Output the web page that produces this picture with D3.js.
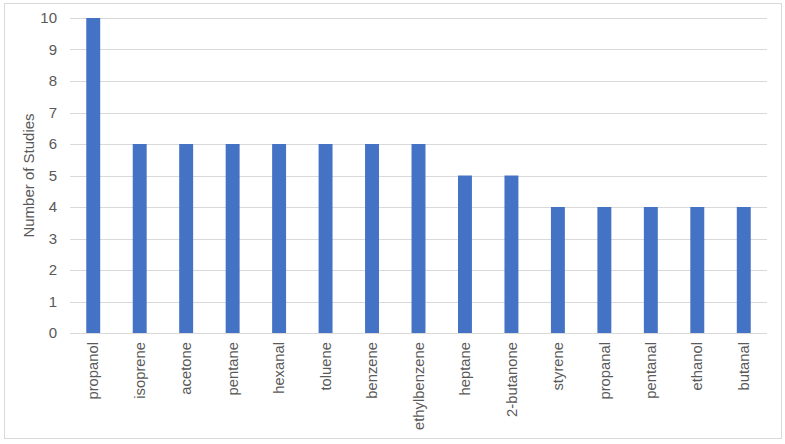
<!DOCTYPE html>
<html>
<head>
<meta charset="utf-8">
<script src="https://cdn.jsdelivr.net/npm/d3@7"></script>
<style>
  body { margin: 0; background: #fff; }
  text { font-family: "Liberation Sans", Arial, sans-serif; fill: #595959; }
</style>
</head>
<body>
<svg class="chart"></svg>
<script>
// compounds and how many studies reported them
var compounds = ["propanol", "isoprene", "acetone", "pentane", "hexanal", "toluene",
	"benzene", "ethylbenzene", "heptane", "2-butanone", "styrene", "propanal",
	"pentanal", "ethanol", "butanal"];
var studies = [10, 6, 6, 6, 6, 6, 6, 6, 5, 5, 4, 4, 4, 4, 4];
var yTicks = [0, 1, 2, 3, 4, 5, 6, 7, 8, 9, 10];

var W = 785, H = 444;
var plotLeft = 70, plotRight = 767, plotTop = 18, plotBottom = 333;

var svg = d3.select(".chart")
	.attr("width", W)
	.attr("height", H);

// outer frame
svg.append("rect")
	.attr("x", 4.5).attr("y", 3.5)
	.attr("width", 777).attr("height", 435)
	.attr("fill", "#fff")
	.attr("stroke", "#d9d9d9");

var x = d3.scaleBand()
	.domain(compounds)
	.range([plotLeft, plotRight])
	.paddingInner(0.7)
	.paddingOuter(0.35);
var y = d3.scaleLinear()
	.domain([0, 10])
	.range([plotBottom, plotTop]);

// gridlines
svg.append("g")
	.selectAll("line")
	.data(yTicks)
.enter().append("line")
	.attr("x1", plotLeft).attr("x2", plotRight)
	.attr("y1", function(d) { return Math.round(y(d)) + 0.5; })
	.attr("y2", function(d) { return Math.round(y(d)) + 0.5; })
	.attr("stroke", "#d9d9d9");

// bars
svg.append("g")
	.selectAll("rect")
	.data(compounds)
.enter().append("rect")
	.attr("x", function(d) { return x(d); })
	.attr("y", function(d, i) { return y(studies[i]); })
	.attr("width", x.bandwidth())
	.attr("height", function(d, i) { return y(0) - y(studies[i]); })
	.attr("fill", "#4472c4");

// y axis labels
var yAxis = svg.append("g")
	.attr("transform", "translate(" + plotLeft + ",0)")
	.call(d3.axisLeft(y).tickValues(yTicks).tickSize(0).tickPadding(13));
yAxis.select(".domain").remove();
yAxis.selectAll("text")
	.style("font-size", "15px")
	.attr("fill", "#595959");

// x axis labels, rotated
var xAxis = svg.append("g")
	.attr("transform", "translate(0," + plotBottom + ")")
	.call(d3.axisBottom(x).tickSize(0));
xAxis.select(".domain").remove();
xAxis.selectAll("text")
	.style("font-size", "14.8px")
	.attr("fill", "#595959")
	.attr("transform", "rotate(-90)")
	.attr("text-anchor", "end")
	.attr("x", -9)
	.attr("y", 0)
	.attr("dy", "0.35em");

// y axis title
svg.append("text")
	.attr("transform", "translate(34," + ((plotTop + plotBottom) / 2) + ") rotate(-90)")
	.attr("text-anchor", "middle")
	.style("font-size", "15px")
	.text("Number of Studies");
</script>
</body>
</html>
